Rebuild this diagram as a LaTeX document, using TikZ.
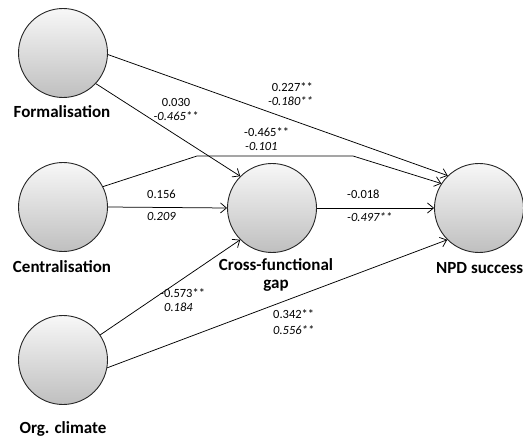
\documentclass[tikz,border=0pt]{standalone}
\usepackage{fontspec}
\setmainfont{Carlito}
\usetikzlibrary{arrows.meta}
\begin{document}
\begin{tikzpicture}[x=1pt,y=-1pt,
    construct/.style={circle,draw=black!85,line width=0.9pt,minimum size=89pt,inner sep=0pt,
      top color=black!3,bottom color=black!25},
    varlabel/.style={font=\fontsize{17}{18}\selectfont\bfseries,align=center,inner sep=0pt},
    coef/.style={font=\fontsize{12.5}{14}\selectfont,inner sep=0pt},
    est/.style={font=\fontsize{12.5}{14}\selectfont\itshape,inner sep=0pt},
    >={Straight Barb[length=6pt,width=10pt]}]
      \useasboundingbox (0,0) rectangle (523,436);
      \draw
        (63,53) node[construct] (form){}
        (63,207) node[construct] (cent){}
        (63,360) node[construct] (org){}
        (272,208) node[construct] (gap){}
        (479,208) node[construct] (npd){};
      \node[varlabel,anchor=base] (formlab) at (62,118) {Formalisation};
      \node[varlabel,anchor=base] (centlab) at (62,272) {Centralisation};
      \node[varlabel,anchor=base] (orglab) at (63,433) {Org. climate};
      \node[varlabel,anchor=base] (gaplab) at (276,288) {Cross-functional\\gap};
      \node[varlabel,anchor=base west] (npdlab) at (436,273) {NPD success};
      \coordinate (bend1) at (197,156);
      \coordinate (bend2) at (353,156);
      \begin{scope}[->,line width=0.75pt]
        \draw (form.-43) to (gap.135);
        \draw (form.-2) to (npd.134);
        \draw (cent.27) -- (bend1) -- (bend2) -- (npd.147);
        \draw (cent.east) to (gap.west);
        \draw (gap.east) to (npd.west);
        \draw (org.34) to (gap.225);
        \draw (org.-10) to (npd.225);
      \end{scope}
      % path coefficients
      \node[coef,anchor=base] (fg1) at (176,107) {0.030};
      \node[est,anchor=base] (fg2) at (176,121) {-0.465**};
      \node[coef,anchor=base east] (fn1) at (313,92) {0.227**};
      \node[est,anchor=base east] (fn2) at (313,106) {-0.180**};
      \node[coef,anchor=base west] (cn1) at (244,136) {-0.465**};
      \node[est,anchor=base west] (cn2) at (245,150) {-0.101};
      \node[coef,anchor=base west] (cg1) at (147,199) {0.156};
      \node[est,anchor=base west] (cg2) at (147,221) {0.209};
      \node[coef,anchor=base west] (gn1) at (347,199) {-0.018};
      \node[est,anchor=base west] (gn2) at (347,222) {-0.497**};
      \node[coef,anchor=base west] (og1) at (160,297) {-0.573**};
      \node[est,anchor=base west] (og2) at (164,311) {0.184};
      \node[coef,anchor=base west] (on1) at (273,318) {0.342**};
      \node[est,anchor=base west] (on2) at (273,334) {0.556**};
    \end{tikzpicture}
\end{document}
